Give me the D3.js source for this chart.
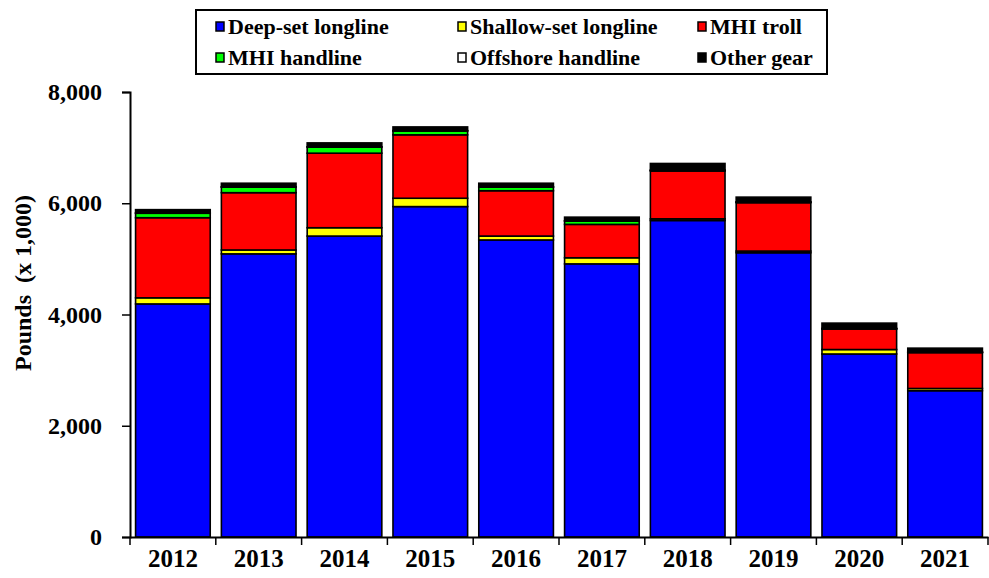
<!DOCTYPE html>
<html>
<head>
<meta charset="utf-8">
<script src="https://cdn.jsdelivr.net/npm/d3@7"></script>
<style>
  body { margin: 0; background: #fff; }
  text { font-family: "Liberation Serif", "Times New Roman", serif; font-weight: bold; }
</style>
</head>
<body>
<div id="chart"></div>
<script>
// values in pounds x 1,000
var years = ["2012","2013","2014","2015","2016","2017","2018","2019","2020","2021"]
var deepSet = [4190, 5090, 5410, 5940, 5340, 4910, 5690, 5110, 3290, 2630]
var shallowSet = [110, 70, 150, 150, 70, 110, 30, 30, 80, 40]
var mhiTroll = [1440, 1030, 1340, 1140, 815, 600, 860, 870, 370, 645]
var mhiHandline = [80, 100, 110, 70, 65, 60, 10, 10, 5, 5]
var offshoreHandline = [5, 5, 5, 5, 5, 5, 5, 5, 5, 5]
var otherGear = [60, 65, 70, 67, 65, 65, 120, 85, 95, 70]

var seriesNames = ["Deep-set longline", "Shallow-set longline", "MHI troll",
                   "MHI handline", "Offshore handline", "Other gear"]
var colors = ["#0000ff", "#ffff00", "#ff0000", "#00ff00", "#ffffff", "#000000"]
var yTicks = [0, 2000, 4000, 6000, 8000]

var w = 989, h = 578
var plotLeft = 130, plotRight = 988, plotTop = 92, plotBottom = 537

var svg = d3.select("#chart").append("svg").attr("width", w).attr("height", h)

// build rows for d3.stack
var keys = ["deep", "shallow", "troll", "handline", "offshore", "other"]
var table = years.map(function(y, i){
    return {year: y, deep: deepSet[i], shallow: shallowSet[i], troll: mhiTroll[i],
            handline: mhiHandline[i], offshore: offshoreHandline[i], other: otherGear[i]}
})
var stacked = d3.stack().keys(keys)(table)

var x = d3.scaleBand().domain(years).range([plotLeft, plotRight]).paddingInner(0.13).paddingOuter(0.065)
var y = d3.scaleLinear().domain([0, 8000]).range([plotBottom, plotTop])

// bars
svg.selectAll("g.layer")
    .data(stacked)
    .enter()
    .append("g")
    .attr("class", "layer")
    .attr("fill", function(d, i){ return colors[i] })
    .selectAll("rect")
    .data(function(d){ return d })
    .enter()
    .append("rect")
    .attr("x", function(d){ return x(d.data.year) })
    .attr("width", x.bandwidth())
    .attr("y", function(d){ return y(d[1]) })
    .attr("height", function(d){ return y(d[0]) - y(d[1]) })
    .attr("stroke", "#000")
    .attr("stroke-width", 1.6)

// y axis
var yAxis = svg.append("g")
    .attr("transform", "translate(" + plotLeft + ",0)")
    .call(d3.axisLeft(y).tickValues(yTicks).tickSize(8).tickPadding(20).tickFormat(d3.format(",")))
yAxis.select(".domain").attr("stroke-width", 2)
yAxis.selectAll(".tick line").attr("stroke-width", 1.5)
yAxis.selectAll("text").attr("font-size", 24).attr("font-family", "Liberation Serif").attr("font-weight", "bold").attr("fill", "#000")

// x axis: labels at band centres, ticks between bands
var xAxis = svg.append("g")
    .attr("transform", "translate(0," + plotBottom + ")")
    .call(d3.axisBottom(x).tickSize(0).tickPadding(12))
xAxis.select(".domain").attr("stroke-width", 2)
xAxis.selectAll("text").attr("font-size", 25).attr("font-family", "Liberation Serif").attr("font-weight", "bold").attr("fill", "#000")

var gap = x.step() * x.paddingInner() / 2
var bounds = [x(years[0]) - gap].concat(years.map(function(d){ return x(d) + x.bandwidth() + gap }))
xAxis.selectAll("line.sep")
    .data(bounds)
    .enter()
    .append("line")
    .attr("class", "sep")
    .attr("x1", function(d){ return d }).attr("x2", function(d){ return d })
    .attr("y1", 0).attr("y2", 8)
    .attr("stroke", "#000").attr("stroke-width", 1.5)

// axis title
svg.append("text")
    .attr("transform", "translate(31," + 283 + ") rotate(-90)")
    .attr("text-anchor", "middle")
    .attr("font-size", 24)
    .attr("xml:space", "preserve")
    .text("Pounds  (x 1,000)")

// legend
var legend = svg.append("g")
legend.append("rect")
    .attr("x", 196).attr("y", 10).attr("width", 631).attr("height", 64)
    .attr("fill", "#fff").attr("stroke", "#000").attr("stroke-width", 2)

var colX = [216, 458, 698]
var rowY = [27, 58]
var items = legend.selectAll("g.item")
    .data(seriesNames)
    .enter()
    .append("g")
    .attr("class", "item")
    .attr("transform", function(d, i){
        return "translate(" + colX[i % 3] + "," + rowY[Math.floor(i / 3)] + ")"
    })
items.append("rect")
    .attr("x", 0).attr("y", -5).attr("width", 8).attr("height", 9)
    .attr("fill", function(d, i){ return colors[i] })
    .attr("stroke", "#000").attr("stroke-width", 1.5)
items.append("text")
    .attr("x", 12).attr("y", 7)
    .attr("font-size", 22)
    .text(function(d){ return d })
</script>
</body>
</html>
